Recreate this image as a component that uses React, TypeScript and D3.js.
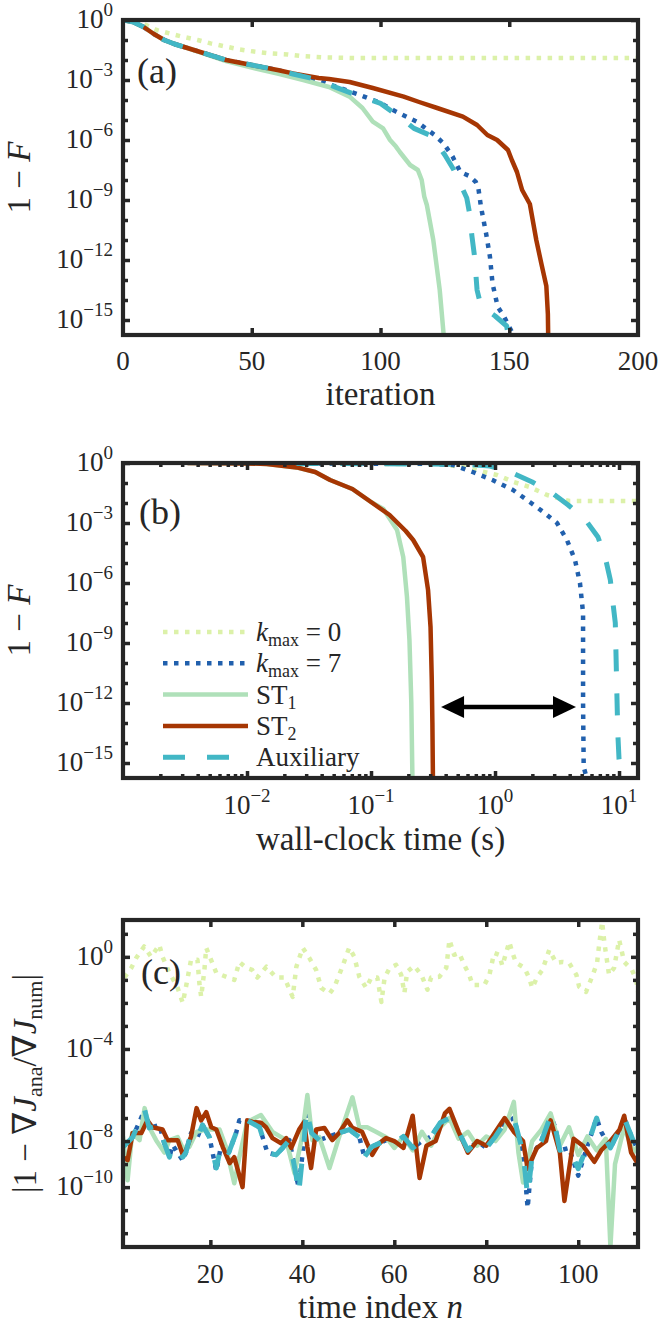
import React, { useEffect, useRef } from "react";
import * as d3 from "d3";

// ---------- panel (a): 1 - F vs iteration (values given as log10) ----------
const aK0Iter = [0, 9, 13, 18, 23, 29, 34, 40, 45, 51, 57, 64, 69, 74, 79, 90, 120, 160, 200];
const aK0Exp = [0, -0.25, -0.5, -0.67, -0.83, -1.0, -1.17, -1.33, -1.47, -1.58, -1.67, -1.72, -1.8, -1.84, -1.87, -1.9, -1.9, -1.9, -1.9];

const aK7Iter = [0, 4, 8, 12, 16, 20, 25, 30, 40, 50, 60, 66, 76, 82, 91, 100, 106, 114, 121, 124.5, 128, 131, 134.5, 137, 138, 139, 141, 142.5, 143.5, 145.5, 148, 151, 152];
const aK7Exp = [0, -0.1, -0.35, -0.7, -1.0, -1.2, -1.4, -1.6, -2.0, -2.25, -2.5, -2.7, -3.0, -3.3, -3.7, -4.15, -4.58, -5.08, -5.75, -6.17, -6.83, -7.6, -7.8, -8.1, -8.4, -9.33, -10.67, -11.83, -13.17, -14.33, -14.83, -15.6, -16.5];

const aST1Iter = [0, 4, 8, 12, 16, 20, 25, 30, 40, 50, 60, 70, 80, 88, 93, 97, 101, 103.7, 106, 107.5, 111.5, 114.5, 116, 117, 118, 120.5, 123, 124.5, 124.8];
const aST1Exp = [0, -0.1, -0.35, -0.7, -1.0, -1.2, -1.4, -1.62, -2.05, -2.38, -2.68, -3.0, -3.35, -3.83, -4.4, -5.08, -5.42, -6.0, -6.33, -6.6, -7.25, -7.5, -8.0, -8.83, -9.25, -11, -13.5, -15.7, -16.5];

const aST2Iter = [0, 4, 8, 12, 16, 20, 25, 30, 40, 50, 60, 66, 76, 80, 88, 97, 109, 115, 122, 132, 137.5, 141.5, 145.3, 149.5, 151, 153, 155, 158, 160.5, 162.5, 164.4, 165, 165.2];
const aST2Exp = [0, -0.1, -0.35, -0.7, -1.0, -1.2, -1.4, -1.6, -2.0, -2.25, -2.5, -2.67, -2.9, -2.95, -3.1, -3.4, -3.83, -4.1, -4.4, -4.83, -5.25, -5.75, -6.0, -6.5, -7.0, -7.6, -8.5, -9.2, -11.0, -12.2, -13.3, -14.7, -16.5];

const aAuxIter = [0, 4, 8, 12, 16, 20, 25, 30, 40, 50, 60, 66, 76, 82, 89, 95, 100, 104.5, 109, 113, 119, 122, 125, 128.5, 131, 133.5, 134.5, 135.5, 136.5, 137.5, 139, 144.5, 149, 150.5];
const aAuxExp = [0, -0.1, -0.35, -0.7, -1.0, -1.2, -1.4, -1.6, -2.0, -2.25, -2.5, -2.7, -3.0, -3.33, -3.67, -3.95, -4.17, -4.58, -5.0, -5.42, -5.75, -6.2, -6.75, -7.5, -8.2, -8.9, -9.6, -10.8, -11.8, -13.5, -14.3, -14.8, -15.3, -16.5];

// ---------- panel (b): 1 - F vs wall-clock time (both log10) ----------
const bK0Time = [-1.6, -0.45, -0.26, 0.016, 0.15, 0.28, 0.42, 0.6, 1.153];
const bK0Exp = [-0.02, -0.06, -0.2, -0.6, -0.95, -1.2, -1.6, -1.9, -1.9];

const bK7Time = [-1.6, -0.5, -0.34, -0.18, -0.02, 0.145, 0.28, 0.39, 0.5, 0.58, 0.645, 0.685, 0.71, 0.71, 0.715, 0.76];
const bK7Exp = [-0.02, -0.04, -0.1, -0.45, -0.85, -1.35, -1.95, -2.45, -3.0, -3.85, -4.85, -6.0, -7.5, -12, -15.2, -16.2];

const bST1Time = [-2.48, -2.0, -1.84, -1.6, -1.45, -1.33, -1.15, -1.0, -0.9, -0.79, -0.74, -0.71, -0.69, -0.675, -0.665];
const bST1Exp = [0, -0.02, -0.05, -0.22, -0.45, -0.85, -1.3, -1.95, -2.3, -3.35, -4.7, -6.7, -8.85, -12, -16.2];

const bST2Time = [-2.48, -2.0, -1.84, -1.6, -1.45, -1.33, -1.15, -1.0, -0.85, -0.72, -0.66, -0.58, -0.54, -0.52, -0.51, -0.505, -0.5];
const bST2Exp = [0, -0.02, -0.05, -0.22, -0.45, -0.85, -1.3, -1.95, -2.6, -3.4, -3.85, -4.7, -6.35, -8.2, -10.85, -13, -16.2];

const bAuxTime = [-1.6, -0.6, -0.2, -0.04, 0.14, 0.3, 0.46, 0.59, 0.73, 0.83, 0.89, 0.93, 0.95, 0.97, 0.98, 0.99, 1.0, 1.04];
const bAuxExp = [-0.02, -0.05, -0.08, -0.15, -0.5, -0.95, -1.5, -2.1, -2.85, -3.7, -4.75, -5.85, -6.95, -8.0, -10.8, -13.5, -14.8, -16.2];

// double arrow (log10 time, log10 1-F)
const arrowTime = [-0.435, 0.653];
const arrowExp = -12.2;

// ---------- panel (c): gradient error vs time index n (log10) ----------
const cK0N = [1.3, 2.8, 3.9, 5.6, 7.1, 8.9, 9.6, 11.1, 12.8, 14, 14.7, 15.8, 17.2, 17.6, 18, 18.7, 19.1, 21.3, 23.5, 25.2, 26.3, 27.8, 29.1, 30.2, 32.2, 34.3, 36.1, 37.9, 38.7, 40.1, 41.5, 43, 44.1, 45.9, 47, 48.7, 50.2, 51.3, 52.4, 53.9, 55, 56.3, 57.2, 57.9, 59, 60.4, 61.5, 62.2, 62.8, 64.3, 65.9, 67.2, 68, 69.8, 71.3, 72, 73, 74.1, 75.2, 76.3, 77, 79.6, 80.7, 81.7, 82.8, 83.5, 85, 85.7, 86.5, 88.3, 89.3, 90, 91.1, 92.2, 93.7, 95.2, 96.5, 98, 99.6, 100.2, 101.7, 103, 104.1, 104.6, 105.2, 105.7, 106.7, 107.8, 108.9, 110, 111.7, 112.6, 113];
const cK0Exp = [-0.9, -0.48, -0.04, 0.45, 0, 0.52, 0, -0.7, -1.3, -2.0, -1.3, -0.13, -0.13, -1.13, -1.74, -0.57, 0.39, -0.7, -0.87, -1.0, -0.22, -0.48, -0.57, -0.9, -0.43, -0.9, -0.9, -1.74, -0.43, 0.39, -0.04, -0.57, -1.35, -1.6, -1.3, -0.43, 0.4, 0, -0.87, -1.35, -0.9, -0.9, -1.96, -0.9, -0.48, -0.35, -0.78, -1.57, -0.65, -0.39, -0.78, -1.43, -0.9, -0.87, -0.48, 0.74, 0.09, 0.17, -0.35, -0.78, -1.22, -1.22, -0.78, 0.17, 0.09, -0.39, 0.65, 0.17, -0.26, -0.48, -0.9, -1.35, -0.87, -0.57, 0.3, -0.26, -0.22, -0.26, -0.78, -1.3, -1.52, -0.87, -0.26, 0.6, 1.52, 0.6, -0.78, -0.48, 0.74, -0.22, -0.57, -1.0, -1.52];

const cK7N = [1, 3.1, 5.7, 6.7, 8.9, 10, 11.1, 11.8, 14, 14.7, 15.8, 17.1, 18.3, 19.8, 21.3, 22.4, 24, 25.6, 26.3, 28, 30.7, 32.4, 34.3, 35.7, 37.2, 38.7, 39.2, 40.4, 40.9, 42, 43.7, 45.4, 48, 50.2, 52.4, 53.5, 55, 56.7, 58.2, 60, 62, 64, 66, 68, 70, 72, 74, 76, 78, 80, 82, 84, 86, 88, 89, 90, 92, 94, 95, 96, 98, 100, 102, 104, 105, 107, 109, 110, 112, 113];
const cK7Exp = [-8.26, -7.83, -6.65, -7.43, -7.3, -8.1, -8.7, -8.17, -8.85, -8.48, -7.65, -7.87, -7.3, -7.83, -9.3, -8.1, -8.5, -7.65, -7.1, -7.1, -7.4, -8.5, -8.6, -8.3, -7.96, -9.56, -10.0, -7.96, -6.65, -7.65, -7.96, -7.83, -7.65, -7.5, -7.83, -8.7, -8.26, -8.1, -7.96, -8.1, -7.8, -8.3, -8.0, -7.8, -7.2, -7.0, -7.6, -8.4, -8.0, -8.3, -7.8, -7.2, -7.0, -8.5, -10.9, -8.6, -8.0, -6.9, -7.4, -8.4, -8.3, -9.5, -8.2, -7.0, -7.6, -8.3, -7.5, -7.0, -8.0, -8.4];

const cST1N = [1, 2, 3, 4.6, 5.7, 6.7, 8.2, 10, 11.1, 12.9, 14, 15.4, 17, 19, 22, 23.4, 25.2, 26.3, 28, 31, 33.5, 36.5, 38.3, 39.8, 41.1, 42.2, 43.7, 45.9, 48, 50.9, 52.4, 54.1, 56, 58.2, 60, 62, 64, 66, 68, 70, 72, 74, 76, 78, 80, 82, 84, 86, 87, 88, 90, 92, 94, 96, 98, 100, 102, 104, 106, 107, 108, 110, 112, 113];
const cST1Exp = [-7.8, -9.7, -7.65, -7.96, -6.57, -7.4, -7.96, -8.5, -7.96, -7.83, -8.3, -8.26, -7.6, -7.5, -7.5, -8.26, -9.83, -8.7, -7.17, -6.87, -7.6, -7.96, -9.4, -7.96, -6.0, -7.96, -7.83, -9.17, -7.83, -6.1, -7.4, -7.4, -7.6, -7.83, -8.3, -7.8, -8.4, -7.6, -8.2, -7.4, -7.0, -7.9, -7.6, -8.2, -7.8, -8.0, -7.5, -6.3, -8.5, -9.8, -8.0, -7.5, -6.8, -8.2, -7.4, -8.6, -7.8, -8.4, -7.9, -12.6, -9.0, -7.4, -8.5, -8.2];

const cST2N = [1, 2, 3.1, 5, 6.3, 7.4, 9.6, 10.7, 12.9, 14, 14.7, 15.8, 17, 18, 19.1, 20.2, 21.3, 22.7, 24.2, 25.2, 27, 28, 29.2, 31, 32.1, 33.5, 35.4, 36.5, 37.6, 39.3, 40.4, 41.1, 41.9, 43, 44.8, 46.5, 48, 49.8, 50.9, 53, 55.2, 56.7, 58.2, 60, 62, 64, 65.5, 67, 69, 71, 72, 74, 76, 78, 80, 82, 84, 86, 88, 89, 91, 93, 94, 96, 97, 99, 101, 103.5, 105, 107, 109, 110, 111.5, 113];
const cST2Exp = [-8.7, -8.83, -7.65, -7.65, -7.1, -7.4, -7.5, -7.96, -7.96, -8.6, -8.4, -7.8, -6.57, -7.1, -6.74, -7.4, -7.5, -8.26, -8.96, -8.7, -10.0, -7.1, -7.17, -7.2, -7.4, -7.87, -8.1, -7.87, -8.3, -7.5, -7.17, -8.26, -9.17, -7.5, -7.43, -7.96, -7.65, -7.1, -7.43, -7.6, -8.6, -8.1, -7.87, -8.0, -8.3, -6.9, -9.6, -8.2, -8.0, -6.8, -6.6, -7.6, -8.5, -8.0, -8.2, -7.6, -7.0, -7.6, -8.0, -9.2, -8.3, -8.0, -7.1, -8.5, -10.6, -7.9, -8.2, -8.9, -8.4, -8.0, -7.5, -6.9, -8.5, -9.0];

const cAuxN = cK7N;
const cAuxExp = [-8.26, -7.83, -6.65, -7.43, -7.3, -8.1, -8.7, -8.17, -8.7, -8.48, -7.65, -7.87, -7.3, -7.83, -9.17, -8.1, -8.5, -7.65, -7.1, -7.1, -7.4, -8.5, -8.6, -8.3, -7.96, -9.56, -10.3, -7.96, -6.65, -7.65, -7.96, -7.83, -7.65, -7.5, -7.83, -8.7, -8.26, -8.1, -7.96, -8.1, -7.8, -8.3, -8.0, -7.8, -7.2, -7.0, -7.6, -8.4, -8.0, -8.3, -7.8, -7.2, -7.0, -8.5, -10.4, -8.6, -8.0, -6.9, -7.4, -8.4, -8.3, -9.2, -8.2, -7.0, -7.6, -8.3, -7.5, -7.0, -8.0, -8.4];

const legendNames = ["k0", "k7", "ST1", "ST2", "Aux"];

const INK = "#262626";
const FONT = "'Liberation Serif', 'DejaVu Serif', serif";
const L = 123;
const R = 638;
const TICK_FS = 27;
const SUP_FS = 19;
const LABEL_FS = 33;
const PANEL_FS = 36;

const styles = {
  k0: { color: "#dcf1a9", width: 4.5, dash: "4.5 6.5" },
  k7: { color: "#2160ad", width: 4.5, dash: "4.5 6.5" },
  ST1: { color: "#afe0b9", width: 4.5, dash: null },
  ST2: { color: "#a63603", width: 4.5, dash: null },
  Aux: { color: "#42b7c5", width: 5, dash: "22 22" },
};

export default function App() {
  const svgRef = useRef(null);

  useEffect(() => {
    const svg = d3.select(svgRef.current);
    svg.selectAll("*").remove();
    svg.style("font-family", FONT);

    const defs = svg.append("defs");

    // 10^e label built from tspans
    function powLabel(g, x, y, e, anchor) {
      const t = g
        .append("text")
        .attr("x", x)
        .attr("y", y)
        .attr("text-anchor", anchor)
        .attr("fill", INK)
        .style("font-size", TICK_FS + "px");
      t.append("tspan").text("10");
      t.append("tspan")
        .attr("dy", -12)
        .style("font-size", SUP_FS + "px")
        .text(e < 0 ? "\u2212" + Math.abs(e) : String(e));
      return t;
    }

    function frameAndTicks(g, x, y, top, bottom, xTicks, yTicks) {
      // ticks inside, on all four sides
      xTicks.forEach(({ values, len }) => {
        g.append("g")
          .attr("transform", `translate(0,${bottom})`)
          .call(d3.axisBottom(x).tickValues(values).tickSize(-len).tickFormat(() => ""));
        g.append("g")
          .attr("transform", `translate(0,${top})`)
          .call(d3.axisTop(x).tickValues(values).tickSize(-len).tickFormat(() => ""));
      });
      yTicks.forEach(({ values, len }) => {
        g.append("g")
          .attr("transform", `translate(${L},0)`)
          .call(d3.axisLeft(y).tickValues(values).tickSize(-len).tickFormat(() => ""));
        g.append("g")
          .attr("transform", `translate(${R},0)`)
          .call(d3.axisRight(y).tickValues(values).tickSize(-len).tickFormat(() => ""));
      });
      g.selectAll(".domain").remove();
      g.selectAll(".tick line").attr("stroke", INK).attr("stroke-width", 3.5);
      g.append("rect")
        .attr("x", L)
        .attr("y", top)
        .attr("width", R - L)
        .attr("height", bottom - top)
        .attr("fill", "none")
        .attr("stroke", INK)
        .attr("stroke-width", 4.2);
    }

    function drawSeries(g, xs, es, x, y, key, clip, xIsLog) {
      const st = styles[key];
      const pts = xs.map((v, i) => [xIsLog ? Math.pow(10, v) : v, Math.pow(10, es[i])]);
      const line = d3
        .line()
        .x((d) => x(d[0]))
        .y((d) => y(d[1]));
      g.append("path")
        .datum(pts)
        .attr("clip-path", `url(#${clip})`)
        .attr("d", line)
        .attr("fill", "none")
        .attr("stroke", st.color)
        .attr("stroke-width", st.width)
        .attr("stroke-dasharray", st.dash)
        .attr("stroke-linejoin", "round");
    }

    function addClip(id, top, bottom) {
      defs.append("clipPath")
        .attr("id", id)
        .append("rect")
        .attr("x", L)
        .attr("y", top)
        .attr("width", R - L)
        .attr("height", bottom - top);
    }

    function yLabel(g, cx, cy, build) {
      const t = g
        .append("text")
        .attr("transform", `translate(${cx},${cy}) rotate(-90)`)
        .attr("text-anchor", "middle")
        .attr("fill", INK)
        .style("font-size", LABEL_FS + "px");
      build(t);
    }

    const decades = d3.range(0, -16, -1);

    // ================= panel (a) =================
    {
      const top = 20, bottom = 335;
      const g = svg.append("g");
      const x = d3.scaleLinear().domain([0, 200]).range([L, R]);
      const y = d3.scaleLog().domain([Math.pow(10, -15.75), 1]).range([bottom, top]);
      addClip("clipA", top, bottom);

      drawSeries(g, aK0Iter, aK0Exp, x, y, "k0", "clipA", false);
      drawSeries(g, aK7Iter, aK7Exp, x, y, "k7", "clipA", false);
      drawSeries(g, aST1Iter, aST1Exp, x, y, "ST1", "clipA", false);
      drawSeries(g, aST2Iter, aST2Exp, x, y, "ST2", "clipA", false);
      drawSeries(g, aAuxIter, aAuxExp, x, y, "Aux", "clipA", false);

      frameAndTicks(
        g, x, y, top, bottom,
        [{ values: [50, 100, 150], len: 7 }],
        [
          { values: decades.filter((e) => e % 3 === 0).map((e) => Math.pow(10, e)), len: 7 },
          { values: decades.filter((e) => e % 3 !== 0).map((e) => Math.pow(10, e)), len: 5 },
        ]
      );

      [0, 50, 100, 150, 200].forEach((v) => {
        g.append("text")
          .attr("x", x(v))
          .attr("y", bottom + 35)
          .attr("text-anchor", "middle")
          .attr("fill", INK)
          .style("font-size", TICK_FS + "px")
          .text(v);
      });
      [0, -3, -6, -9, -12, -15].forEach((e) => powLabel(g, 113, y(Math.pow(10, e)) + 8, e, "end"));

      g.append("text")
        .attr("x", (L + R) / 2)
        .attr("y", bottom + 70)
        .attr("text-anchor", "middle")
        .attr("fill", INK)
        .style("font-size", LABEL_FS + "px")
        .text("iteration");

      yLabel(g, 30, (top + bottom) / 2, (t) => {
        t.append("tspan").text("1 \u2212 ");
        t.append("tspan").style("font-style", "italic").text("F");
      });

      g.append("text")
        .attr("x", 137)
        .attr("y", 83)
        .attr("fill", INK)
        .style("font-size", PANEL_FS + "px")
        .text("(a)");
    }

    // ================= panel (b) =================
    {
      const top = 463, bottom = 778;
      const g = svg.append("g");
      const x = d3.scaleLog().domain([1e-3, Math.pow(10, 1.153)]).range([L, R]);
      const y = d3.scaleLog().domain([Math.pow(10, -15.75), 1]).range([bottom, top]);
      addClip("clipB", top, bottom);

      drawSeries(g, bK0Time, bK0Exp, x, y, "k0", "clipB", true);
      drawSeries(g, bK7Time, bK7Exp, x, y, "k7", "clipB", true);
      drawSeries(g, bST1Time, bST1Exp, x, y, "ST1", "clipB", true);
      drawSeries(g, bST2Time, bST2Exp, x, y, "ST2", "clipB", true);
      drawSeries(g, bAuxTime, bAuxExp, x, y, "Aux", "clipB", true);

      const minorX = [];
      [-3, -2, -1, 0, 1].forEach((d) => {
        for (let m = 2; m <= 9; m++) {
          const v = m * Math.pow(10, d);
          if (v < Math.pow(10, 1.153)) minorX.push(v);
        }
      });
      frameAndTicks(
        g, x, y, top, bottom,
        [
          { values: [1e-2, 1e-1, 1, 10], len: 7 },
          { values: minorX, len: 4 },
        ],
        [
          { values: decades.filter((e) => e % 3 === 0).map((e) => Math.pow(10, e)), len: 7 },
          { values: decades.filter((e) => e % 3 !== 0).map((e) => Math.pow(10, e)), len: 5 },
        ]
      );

      [-2, -1, 0, 1].forEach((e) => powLabel(g, x(Math.pow(10, e)), bottom + 36, e, "middle"));
      [0, -3, -6, -9, -12, -15].forEach((e) => powLabel(g, 113, y(Math.pow(10, e)) + 8, e, "end"));

      g.append("text")
        .attr("x", (L + R) / 2)
        .attr("y", bottom + 72)
        .attr("text-anchor", "middle")
        .attr("fill", INK)
        .style("font-size", LABEL_FS + "px")
        .text("wall-clock time (s)");

      yLabel(g, 30, (top + bottom) / 2, (t) => {
        t.append("tspan").text("1 \u2212 ");
        t.append("tspan").style("font-style", "italic").text("F");
      });

      g.append("text")
        .attr("x", 139)
        .attr("y", 524)
        .attr("fill", INK)
        .style("font-size", PANEL_FS + "px")
        .text("(b)");

      // double-headed arrow
      const ay = y(Math.pow(10, arrowExp));
      const ax0 = x(Math.pow(10, arrowTime[0]));
      const ax1 = x(Math.pow(10, arrowTime[1]));
      const head = 23, half = 11;
      g.append("line")
        .attr("x1", ax0 + head - 2)
        .attr("x2", ax1 - head + 2)
        .attr("y1", ay)
        .attr("y2", ay)
        .attr("stroke", "#000")
        .attr("stroke-width", 4.5);
      g.append("path")
        .attr("d", `M${ax0},${ay} L${ax0 + head},${ay - half} L${ax0 + head},${ay + half} Z`)
        .attr("fill", "#000");
      g.append("path")
        .attr("d", `M${ax1},${ay} L${ax1 - head},${ay - half} L${ax1 - head},${ay + half} Z`)
        .attr("fill", "#000");

      // legend
      const lg = g.append("g");
      legendNames.forEach((key, i) => {
        const st = styles[key];
        const ly = 632 + i * 31.3;
        lg.append("line")
          .attr("x1", 163)
          .attr("x2", 248)
          .attr("y1", ly)
          .attr("y2", ly)
          .attr("stroke", st.color)
          .attr("stroke-width", st.width)
          .attr("stroke-dasharray", st.dash);
        const t = lg
          .append("text")
          .attr("x", 256)
          .attr("y", ly + 9)
          .attr("fill", INK)
          .style("font-size", "27px");
        if (key === "k0" || key === "k7") {
          t.append("tspan").style("font-style", "italic").text("k");
          t.append("tspan").attr("dy", 5).style("font-size", "18px").text("max");
          t.append("tspan").attr("dy", -5).text(key === "k0" ? " = 0" : " = 7");
        } else if (key === "ST1" || key === "ST2") {
          t.append("tspan").text("ST");
          t.append("tspan").attr("dy", 5).style("font-size", "18px").text(key === "ST1" ? "1" : "2");
        } else {
          t.text("Auxiliary");
        }
      });
    }

    // ================= panel (c) =================
    {
      const top = 920, bottom = 1247;
      const g = svg.append("g");
      const x = d3.scaleLinear().domain([1, 113]).range([L, R]);
      const y = d3.scaleLog().domain([Math.pow(10, -12.6), Math.pow(10, 1.6)]).range([bottom, top]);
      addClip("clipC", top, bottom);

      drawSeries(g, cK0N, cK0Exp, x, y, "k0", "clipC", false);
      drawSeries(g, cK7N, cK7Exp, x, y, "k7", "clipC", false);
      drawSeries(g, cST1N, cST1Exp, x, y, "ST1", "clipC", false);
      drawSeries(g, cST2N, cST2Exp, x, y, "ST2", "clipC", false);
      drawSeries(g, cAuxN, cAuxExp, x, y, "Aux", "clipC", false);

      const labelled = [0, -4, -8, -10];
      const cDec = d3.range(1, -13, -1);
      frameAndTicks(
        g, x, y, top, bottom,
        [{ values: [20, 40, 60, 80, 100], len: 7 }],
        [
          { values: cDec.filter((e) => labelled.includes(e)).map((e) => Math.pow(10, e)), len: 7 },
          { values: cDec.filter((e) => !labelled.includes(e)).map((e) => Math.pow(10, e)), len: 5 },
        ]
      );

      [20, 40, 60, 80, 100].forEach((v) => {
        g.append("text")
          .attr("x", x(v))
          .attr("y", bottom + 36)
          .attr("text-anchor", "middle")
          .attr("fill", INK)
          .style("font-size", TICK_FS + "px")
          .text(v);
      });
      labelled.forEach((e) => powLabel(g, 113, y(Math.pow(10, e)) + 8, e, "end"));

      const xl = g
        .append("text")
        .attr("x", (L + R) / 2)
        .attr("y", bottom + 71)
        .attr("text-anchor", "middle")
        .attr("fill", INK)
        .style("font-size", LABEL_FS + "px");
      xl.append("tspan").text("time index ");
      xl.append("tspan").style("font-style", "italic").text("n");

      yLabel(g, 36, (top + bottom) / 2, (t) => {
        t.append("tspan").text("|1 \u2212 \u2207");
        t.append("tspan").style("font-style", "italic").text("J");
        t.append("tspan").attr("dy", 6).style("font-size", "22px").text("ana");
        t.append("tspan").attr("dy", -6).text("/\u2207");
        t.append("tspan").style("font-style", "italic").text("J");
        t.append("tspan").attr("dy", 6).style("font-size", "22px").text("num");
        t.append("tspan").attr("dy", -6).text("|");
      });

      g.append("text")
        .attr("x", 141)
        .attr("y", 984)
        .attr("fill", INK)
        .style("font-size", PANEL_FS + "px")
        .text("(c)");
    }
  }, []);

  return (
    <svg
      ref={svgRef}
      width={660}
      height={1325}
      style={{ position: "absolute", left: 0, top: 0, background: "#fff" }}
    />
  );
}
